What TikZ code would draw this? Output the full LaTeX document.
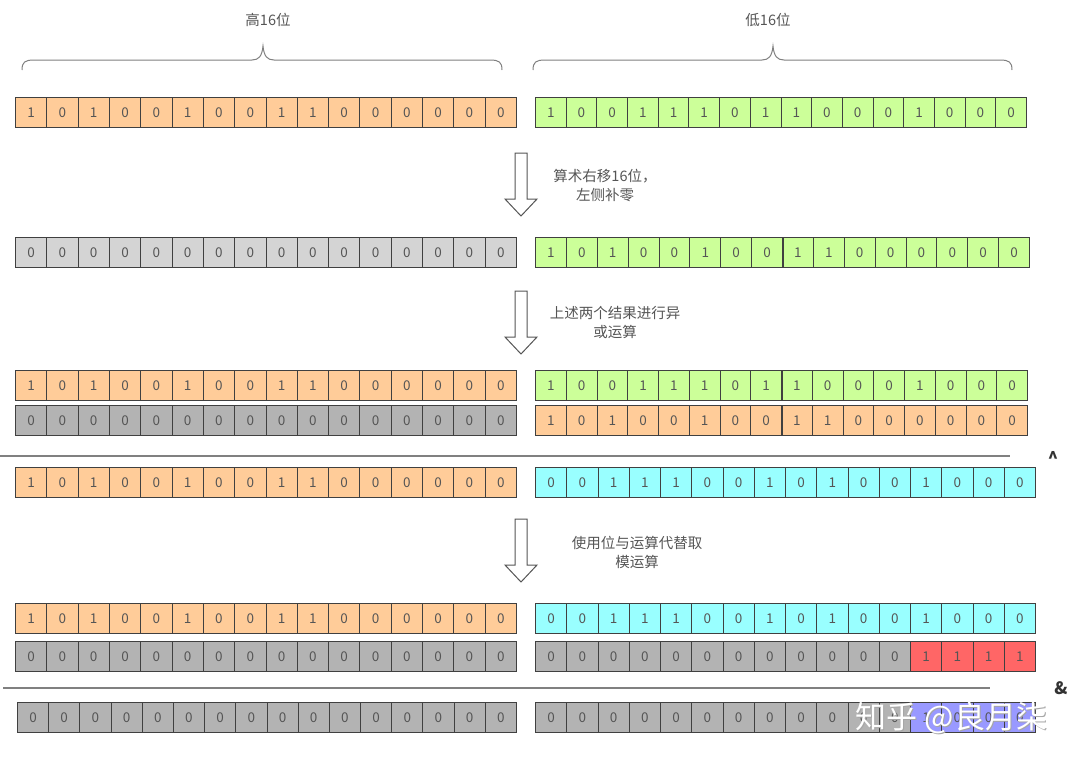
\documentclass[tikz,border=0pt]{standalone}
\usepackage{fontspec}
\setmainfont{Noto Sans CJK SC}
\definecolor{orangeC}{HTML}{FFCC99}
\definecolor{greenC}{HTML}{CCFF99}
\definecolor{cyanC}{HTML}{99FFFF}
\definecolor{lgrayC}{HTML}{D4D4D4}
\definecolor{grayC}{HTML}{B3B3B3}
\definecolor{redC}{HTML}{FF6666}
\definecolor{purpleC}{HTML}{9999FF}
\definecolor{edgeC}{HTML}{404040}
\definecolor{txtC}{HTML}{555555}
\definecolor{lineC}{HTML}{808080}
\tikzset{
  cell/.style={draw=edgeC, line width=0.9pt, minimum height=30pt, inner sep=0pt, text=txtC, font=\fontsize{13.5}{13.5}\selectfont},
  bracepath/.style={draw=lineC, line width=1pt},
  sepline/.style={draw=lineC, line width=1.4pt},
  note/.style={text=txtC, font=\fontsize{14.5}{19}\selectfont, align=center},
  hollow/.style={draw=txtC, line width=1pt, fill=white},
  opsym/.style={text=black!80, font=\bfseries\fontsize{17}{17}\selectfont},
  split/.style={draw=edgeC, line width=1.8pt}
}
\newcommand\bitrow[8]{%
  \pgfmathsetmacro\cw{(#3-#2)/16}%
  \foreach \b [count=\i from 1] in {#6}{%
    \ifnum\i<#7 \def\fc{#5}\else\def\fc{#8}\fi
    \node[cell, fill=\fc, minimum width=\cw pt, anchor=north west] (#1-\i) at ({#2+(\i-1)*\cw},#4) {\b};
  }%
}
\newcommand\hollowarrow[2]{% x center, y top
  \draw[hollow] (#1-6,#2) -- (#1+6,#2) -- (#1+6,#2+46) -- (#1+16,#2+46) -- (#1,#2+63) -- (#1-16,#2+46) -- (#1-6,#2+46) -- cycle;
}
\begin{document}
\begin{tikzpicture}[x=1pt,y=-1pt]
\useasboundingbox (0,0) rectangle (1080,764);
% braces
\draw[bracepath] (22,70) .. controls (22,62) and (25,60) .. (34,60) -- (252,60) .. controls (259,60) and (262,56) .. (263,46) .. controls (264,56) and (267,60) .. (274,60) -- (490,60) .. controls (499,60) and (502,62) .. (502,70);
\draw[bracepath] (533,70) .. controls (533,62) and (536,60) .. (545,60) -- (762,60) .. controls (769,60) and (772,56) .. (773,46) .. controls (774,56) and (777,60) .. (784,60) -- (1000,60) .. controls (1009,60) and (1012,62) .. (1012,70);
\node[note] (hi) at (268,20) {高16位};
\node[note] (lo) at (768,20) {低16位};
% row 1
\bitrow{ra}{15}{516}{97}{orangeC}{1,0,1,0,0,1,0,0,1,1,0,0,0,0,0,0}{17}{orangeC}
\bitrow{rb}{535}{1026}{97}{greenC}{1,0,0,1,1,1,0,1,1,0,0,0,1,0,0,0}{17}{greenC}
% arrow 1
\hollowarrow{521}{153}
\node[note] (n1) at (605,185) {算术右移16位，\\左侧补零};
% row 2
\bitrow{rc}{15}{516}{237}{lgrayC}{0,0,0,0,0,0,0,0,0,0,0,0,0,0,0,0}{17}{lgrayC}
\bitrow{rd}{535}{1029}{237}{greenC}{1,0,1,0,0,1,0,0,1,1,0,0,0,0,0,0}{17}{greenC}
% arrow 2
\hollowarrow{521}{291}
\node[note] (n2) at (615,323) {上述两个结果进行异\\或运算};
% row 3,4
\bitrow{re}{15}{516}{370}{orangeC}{1,0,1,0,0,1,0,0,1,1,0,0,0,0,0,0}{17}{orangeC}
\bitrow{rf}{535}{1027}{370}{greenC}{1,0,0,1,1,1,0,1,1,0,0,0,1,0,0,0}{17}{greenC}
\bitrow{rg}{15}{516}{405}{grayC}{0,0,0,0,0,0,0,0,0,0,0,0,0,0,0,0}{17}{grayC}
\bitrow{rh}{535}{1027}{405}{orangeC}{1,0,1,0,0,1,0,0,1,1,0,0,0,0,0,0}{17}{orangeC}
\coordinate (s1a) at (0,456);
\coordinate (s1b) at (1010,456);
\draw[sepline] (s1a) -- (s1b);
\node[opsym] (xor) at (1053,458) {\textasciicircum};
% row 5
\bitrow{ri}{15}{516}{467}{orangeC}{1,0,1,0,0,1,0,0,1,1,0,0,0,0,0,0}{17}{orangeC}
\bitrow{rj}{535}{1035}{467}{cyanC}{0,0,1,1,1,0,0,1,0,1,0,0,1,0,0,0}{17}{cyanC}
% arrow 3
\hollowarrow{521}{519}
\node[note] (n3) at (637,552) {使用位与运算代替取\\模运算};
% row 6,7
\bitrow{rk}{15}{516}{603}{orangeC}{1,0,1,0,0,1,0,0,1,1,0,0,0,0,0,0}{17}{orangeC}
\bitrow{rl}{535}{1035}{603}{cyanC}{0,0,1,1,1,0,0,1,0,1,0,0,1,0,0,0}{17}{cyanC}
\bitrow{rm}{15}{516}{641}{grayC}{0,0,0,0,0,0,0,0,0,0,0,0,0,0,0,0}{17}{grayC}
\bitrow{rn}{535}{1035}{641}{grayC}{0,0,0,0,0,0,0,0,0,0,0,0,1,1,1,1}{13}{redC}
\coordinate (s2a) at (3,688);
\coordinate (s2b) at (990,688);
\draw[sepline] (s2a) -- (s2b);
\node[opsym] (and) at (1061,688) {\&};
% row 8
\bitrow{ro}{17}{516}{702}{grayC}{0,0,0,0,0,0,0,0,0,0,0,0,0,0,0,0}{17}{grayC}
\bitrow{rp}{535}{1035}{702}{grayC}{0,0,0,0,0,0,0,0,0,0,0,0,1,0,0,0}{13}{purpleC}
% group splits
\foreach \r in {ra,rb,rc,rd,re,rf,rg,rh,ri,rk,rm,ro}{
  \draw[split] (\r-8.north east) -- (\r-8.south east);
}
\foreach \r in {rj,rl,rn,rp}{
  \draw[split] (\r-6.north east) -- (\r-6.south east);
}
% watermark
\node[text=black!35, font=\fontsize{31}{31}\selectfont] (wms) at (952.5,719) {知乎 @良月柒};
\node[text=white, font=\fontsize{31}{31}\selectfont] (wm) at (951.5,718) {知乎 @良月柒};
\end{tikzpicture}
\end{document}
